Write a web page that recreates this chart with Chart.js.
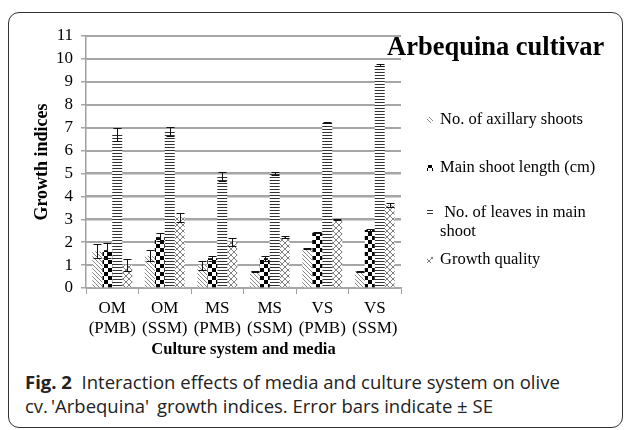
<!DOCTYPE html>
<html>
<head>
<meta charset="utf-8">
<script src="https://cdn.jsdelivr.net/npm/chart.js@4/dist/chart.umd.min.js"></script>
<style>
  body { margin: 0; background: #fff; width: 627px; height: 430px; overflow: hidden; position: relative; }
  #frame { position: absolute; left: 8px; top: 12px; width: 615px; height: 416px; border: 1px solid #333; border-radius: 11px; box-sizing: border-box; }
  #wrap { position: absolute; left: 0; top: 0; width: 627px; height: 362px; z-index: 1; }
  #cap { position: absolute; left: 25px; top: 370px; font-family: "Open Sans", sans-serif; font-size: 18.5px; line-height: 24px; color: #222; white-space: nowrap; }
  #cap b { font-weight: 700; }
</style>
</head>
<body>
<div id="frame"></div>
<div id="wrap"><canvas id="chart"></canvas></div>
<div id="cap"><b>Fig. 2</b>&nbsp; Interaction effects of media and culture system on olive<br>cv.&#8201;'Arbequina'&#8201; growth indices. Error bars indicate ± SE</div>
<script>
const categories = [["OM", "(PMB)"], ["OM", "(SSM)"], ["MS", "(PMB)"], ["MS", "(SSM)"], ["VS", "(PMB)"], ["VS", "(SSM)"]];
const seriesNames = ["No. of axillary shoots", "Main shoot length (cm)", "No. of leaves in main shoot", "Growth quality"];

const axillaryShoots = [1.6, 1.4, 1.0, 0.73, 1.72, 0.73];
const axillaryErr = [0.3, 0.24, 0.2, 0.03, 0.03, 0.03];
const shootLength = [1.65, 2.22, 1.3, 1.3, 2.41, 2.53];
const shootLengthErr = [0.33, 0.18, 0.1, 0.11, 0.03, 0.03];
const leavesNo = [6.7, 6.83, 4.87, 5.0, 7.22, 9.72];
const leavesErr = [0.27, 0.19, 0.18, 0.05, 0.03, 0.05];
const growthQuality = [1.0, 3.09, 2.01, 2.22, 3.0, 3.62];
const growthQualityErr = [0.27, 0.2, 0.16, 0.03, 0.03, 0.1];

const yTicks = [0, 1, 2, 3, 4, 5, 6, 7, 8, 9, 10, 11];

// small pattern tiles like the old excel fills
function tile(w, h, draw) {
  const c = document.createElement("canvas");
  c.width = w; c.height = h;
  const g = c.getContext("2d");
  g.fillStyle = "#fff";
  g.fillRect(0, 0, w, h);
  draw(g);
  return document.createElement("canvas").getContext("2d").createPattern(c, "repeat");
}
const diagFill = tile(4, 4, g => {
  g.fillStyle = "#8a8a8a";
  for (let i = 0; i < 4; i++) g.fillRect(i, i, 1, 1);
});
const checkFill = tile(8, 8, g => {
  g.fillStyle = "#000";
  g.fillRect(0, 0, 4, 4);
  g.fillRect(4, 4, 4, 4);
});
const stripeFill = tile(4, 3, g => {
  g.fillStyle = "#333";
  g.fillRect(0, 0, 4, 1);
});
const diamondFill = tile(6, 6, g => {
  g.fillStyle = "#808080";
  for (let i = 0; i < 6; i++) {
    g.fillRect(i, i, 1, 1);
    g.fillRect(5 - i, i, 1, 1);
  }
});
const fills = [diagFill, checkFill, stripeFill, diamondFill];
const errors = [axillaryErr, shootLengthErr, leavesErr, growthQualityErr];

const serif = "'Liberation Serif', 'Times New Roman', serif";

// horizontal gridlines at the y ticks, under the bars
const hGrid = {
  id: "hGrid",
  beforeDatasetsDraw(chart) {
    const { ctx, chartArea } = chart;
    const y = chart.scales.y;
    ctx.save();
    ctx.fillStyle = "#a6a6a6";
    yTicks.forEach(v => {
      const py = Math.round(y.getPixelForValue(v));
      ctx.fillRect(chartArea.left, py - 1, chartArea.right - chartArea.left, 2);
    });
    ctx.restore();
  }
};

const errorBars = {
  id: "errorBars",
  afterDatasetsDraw(chart) {
    const ctx = chart.ctx;
    const y = chart.scales.y;
    ctx.save();
    ctx.strokeStyle = "#111";
    ctx.lineWidth = 1;
    chart.data.datasets.forEach((ds, i) => {
      const meta = chart.getDatasetMeta(i);
      meta.data.forEach((bar, j) => {
        const v = ds.data[j], e = errors[i][j];
        const x = Math.round(bar.x) + 0.5;
        const top = Math.round(y.getPixelForValue(v + e)) + 0.5;
        const bot = Math.round(y.getPixelForValue(v - e)) + 0.5;
        ctx.beginPath();
        ctx.moveTo(x, top); ctx.lineTo(x, bot);
        ctx.moveTo(x - 4, top); ctx.lineTo(x + 4, top);
        ctx.moveTo(x - 4, bot); ctx.lineTo(x + 4, bot);
        ctx.stroke();
      });
    });
    ctx.restore();
  }
};

const sideLegend = {
  id: "sideLegend",
  afterDraw(chart) {
    const ctx = chart.ctx;
    ctx.save();
    ctx.fillStyle = "#000";
    ctx.font = "bold 26.5px " + serif;
    ctx.textBaseline = "middle";
    ctx.textAlign = "left";
    ctx.fillText("Arbequina cultivar", 387, 48);

    const rows = [[120], [168], [213, 232], [260]];
    const lines = [[seriesNames[0]], [seriesNames[1]], [" No. of leaves in main", "shoot"], [seriesNames[3]]];
    ctx.font = "16.5px " + serif;
    rows.forEach((ys, i) => {
      ctx.fillStyle = fills[i];
      ctx.fillRect(427, ys[0] - 3, 6, 6);
      ctx.fillStyle = "#000";
      lines[i].forEach((t, k) => ctx.fillText(t, 440, ys[k]));
    });
    ctx.restore();
  }
};

const ctx = document.getElementById("chart");

new Chart(ctx, {
  type: "bar",
  data: {
    labels: categories,
    datasets: [
      { label: seriesNames[0], data: axillaryShoots, backgroundColor: diagFill },
      { label: seriesNames[1], data: shootLength, backgroundColor: checkFill },
      { label: seriesNames[2], data: leavesNo, backgroundColor: stripeFill },
      { label: seriesNames[3], data: growthQuality, backgroundColor: diamondFill }
    ]
  },
  options: {
    responsive: true,
    maintainAspectRatio: false,
    animation: false,
    events: [],
    layout: { padding: { left: 0, right: 226, top: 36, bottom: 0 } },
    datasets: { bar: { categoryPercentage: 0.76, barPercentage: 1, borderWidth: 0 } },
    plugins: { legend: { display: false }, tooltip: { enabled: false } },
    scales: {
      x: {
        grid: { offset: true, drawOnChartArea: false, drawTicks: true, tickLength: 6, color: "#a0a0a0" },
        border: { color: "#a0a0a0", width: 1.5 },
        ticks: { color: "#000", font: { family: serif, size: 17 }, padding: 4, maxRotation: 0 },
        title: { display: true, text: "Culture system and media", color: "#000", font: { family: serif, size: 16.5, weight: "bold" }, padding: { top: 0, bottom: 2 } },
        afterFit(s) { s.height = 74; }
      },
      y: {
        min: yTicks[0],
        max: yTicks[yTicks.length - 1],
        grid: { display: true, drawOnChartArea: true, color: "#a6a6a6", lineWidth: 1.5, drawTicks: true, tickLength: 5 },
        border: { color: "#a0a0a0", width: 1.5 },
        ticks: { color: "#000", font: { family: serif, size: 17 }, padding: 8, autoSkip: false, stepSize: 1 },
        title: { display: true, text: "Growth indices", color: "#000", font: { family: serif, size: 18, weight: "bold" }, padding: { top: 32, bottom: 0 } },
        afterFit(s) { s.width = 86; }
      }
    }
  },
  plugins: [hGrid, errorBars, sideLegend]
});
</script>
</body>
</html>
